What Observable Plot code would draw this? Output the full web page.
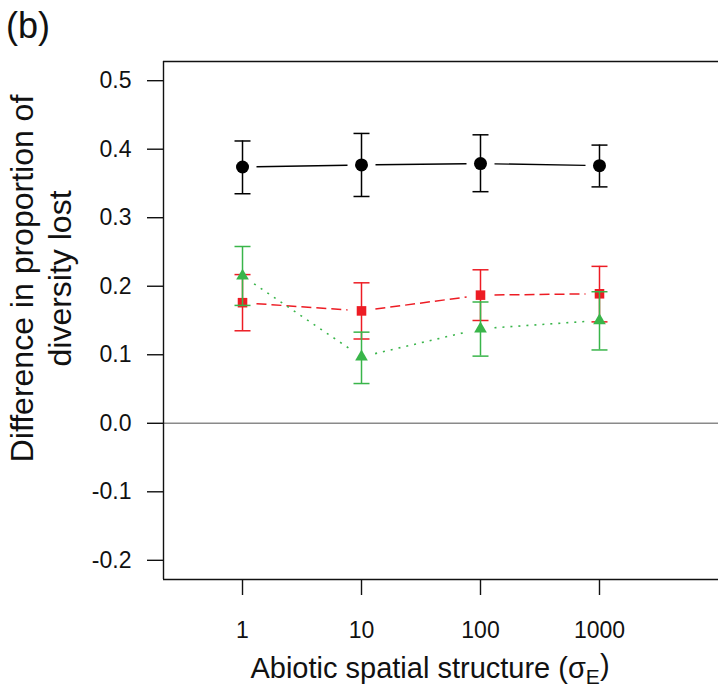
<!DOCTYPE html>
<html>
<head>
<meta charset="utf-8">
<script src="https://cdn.jsdelivr.net/npm/d3@7"></script>
<script src="https://cdn.jsdelivr.net/npm/@observablehq/plot@0.6"></script>
<style>
  html, body { margin: 0; padding: 0; overflow: hidden; background: #fff; }
  #wrap { position: relative; width: 718px; height: 696px; overflow: hidden; background: #fff; }
  #panel { position: absolute; left: 6px; top: 8px; font: 36px "Liberation Sans", Arial, sans-serif; line-height: 1; z-index: 2; color: #111; }
  #wrap svg { max-width: none !important; }
</style>
</head>
<body>
<div id="wrap"><div id="panel">(b)</div></div>
<script>
// ---- data ----
const xValues = [1, 10, 100, 1000];
const xTickLabels = ["1", "10", "100", "1000"];
const yTicks = [-0.2, -0.1, 0.0, 0.1, 0.2, 0.3, 0.4, 0.5];

const blackMean = [0.374, 0.377, 0.379, 0.376];
const blackLo   = [0.335, 0.331, 0.338, 0.345];
const blackHi   = [0.412, 0.423, 0.421, 0.406];

const redMean = [0.176, 0.164, 0.187, 0.189];
const redLo   = [0.135, 0.123, 0.150, 0.148];
const redHi   = [0.217, 0.205, 0.224, 0.229];

const greenMean = [0.215, 0.097, 0.138, 0.150];
const greenLo   = [0.172, 0.058, 0.098, 0.107];
const greenHi   = [0.258, 0.133, 0.177, 0.192];

const xLabel = "Abiotic spatial structure (σE)";
const yLabel = "Difference in proportion of\ndiversity lost";

// ---- layout / style ----
const W = 740, H = 696;
const mL = 163, mR = 0, mT = 61, mB = 117;
const xDomain = [Math.pow(10, -0.664), Math.pow(10, 4.185)];
const yDomain = [-0.228, 0.528];
const font = '"Liberation Sans", Arial, sans-serif';

const series = [
  {mean: blackMean, lo: blackLo, hi: blackHi, color: "#000000", symbol: "circle", r: 6.5, dash: null, lw: 1.4},
  {mean: redMean, lo: redLo, hi: redHi, color: "#ED1C24", symbol: "square", r: 5.4, dash: "10,5", lw: 1.5},
  {mean: greenMean, lo: greenLo, hi: greenHi, color: "#39B54A", symbol: "triangle", r: 4.7, dash: "2,6", lw: 1.6}
];

const sx = Plot.scale({x: {type: "log", domain: xDomain, range: [mL, W - mR]}});
const sy = Plot.scale({y: {type: "linear", domain: yDomain, range: [H - mB, mT]}});
const gap = 14;

const capSymbol = {
  draw(context) { context.moveTo(-8, 0); context.lineTo(8, 0); }
};

const marks = [
  Plot.ruleY([0], {stroke: "#8a8a8a", strokeWidth: 1.5}),
  // open box: left, top and bottom sides (the right side lies beyond the picture)
  Plot.ruleX([xDomain[0]], {y1: yDomain[0], y2: yDomain[1], stroke: "#111", strokeWidth: 1.4}),
  Plot.ruleY(yDomain, {stroke: "#111", strokeWidth: 1.4}),
  Plot.axisY({ticks: yTicks, tickSize: 16, tickPadding: 16, tickFormat: d => d.toFixed(1), fontSize: 23, stroke: "#111", strokeWidth: 1.4, fill: "#111", label: null}),
  Plot.axisX({ticks: xValues, tickSize: 16, tickPadding: 26, tickFormat: d => xTickLabels[xValues.indexOf(d)], fontSize: 23, stroke: "#111", strokeWidth: 1.4, fill: "#111", label: null})
];

for (const s of series) {
  const rows = xValues.map((x, i) => ({x, mean: s.mean[i], lo: s.lo[i], hi: s.hi[i]}));
  const segs = [];
  for (let i = 0; i < rows.length - 1; i++) {
    const a = rows[i], b = rows[i + 1];
    const ax = sx.apply(a.x), ay = sy.apply(a.mean);
    const bx = sx.apply(b.x), by = sy.apply(b.mean);
    const L = Math.hypot(bx - ax, by - ay);
    const ux = (bx - ax) / L, uy = (by - ay) / L;
    segs.push({
      x1: sx.invert(ax + ux * gap), y1: sy.invert(ay + uy * gap),
      x2: sx.invert(bx - ux * gap), y2: sy.invert(by - uy * gap)
    });
  }
  marks.push(
    Plot.ruleX(rows, {x: "x", y1: "lo", y2: "hi", stroke: s.color, strokeWidth: 1.5}),
    Plot.dot(rows, {x: "x", y: "lo", symbol: capSymbol, stroke: s.color, fill: "none", strokeWidth: 1.5}),
    Plot.dot(rows, {x: "x", y: "hi", symbol: capSymbol, stroke: s.color, fill: "none", strokeWidth: 1.5}),
    Plot.link(segs, {x1: "x1", y1: "y1", x2: "x2", y2: "y2", stroke: s.color, strokeWidth: s.lw, strokeDasharray: s.dash || undefined}),
    Plot.dot(rows, {x: "x", y: "mean", symbol: s.symbol, r: s.r, fill: s.color, stroke: "none"})
  );
}

marks.push(
  Plot.text([yLabel], {text: d => d, frameAnchor: "left", rotate: -90, dx: -124, dy: -42, fontSize: 32, lineHeight: 1.2, lineAnchor: "middle", textAnchor: "middle", fill: "#111"}),
  Plot.text([xLabel], {text: d => d, frameAnchor: "bottom", dx: -22, dy: 89, fontSize: 29, lineAnchor: "middle", textAnchor: "middle", fill: "#111"})
);

const chart = Plot.plot({
  width: W, height: H,
  marginLeft: mL, marginRight: mR, marginTop: mT, marginBottom: mB,
  style: {fontFamily: font, fontSize: "23px", color: "#111", background: "white", overflow: "visible", maxWidth: "none"},
  x: {type: "log", domain: xDomain, axis: null},
  y: {domain: yDomain, axis: null},
  marks
});

// subscript E in the x label
for (const t of chart.querySelectorAll("text")) {
  if (t.textContent === xLabel) {
    t.textContent = "";
    const ns = "http://www.w3.org/2000/svg";
    const p1 = document.createElementNS(ns, "tspan");
    p1.textContent = "Abiotic spatial structure (σ";
    const p2 = document.createElementNS(ns, "tspan");
    p2.textContent = "E";
    p2.setAttribute("dy", "0.3em");
    p2.setAttribute("font-size", "21");
    const p3 = document.createElementNS(ns, "tspan");
    p3.textContent = ")";
    p3.setAttribute("dy", "-0.3em");
    p3.setAttribute("font-size", "29");
    t.append(p1, p2, p3);
  }
}

chart.style.display = "block";
chart.style.maxWidth = "none";
document.getElementById("wrap").appendChild(chart);
</script>
</body>
</html>
